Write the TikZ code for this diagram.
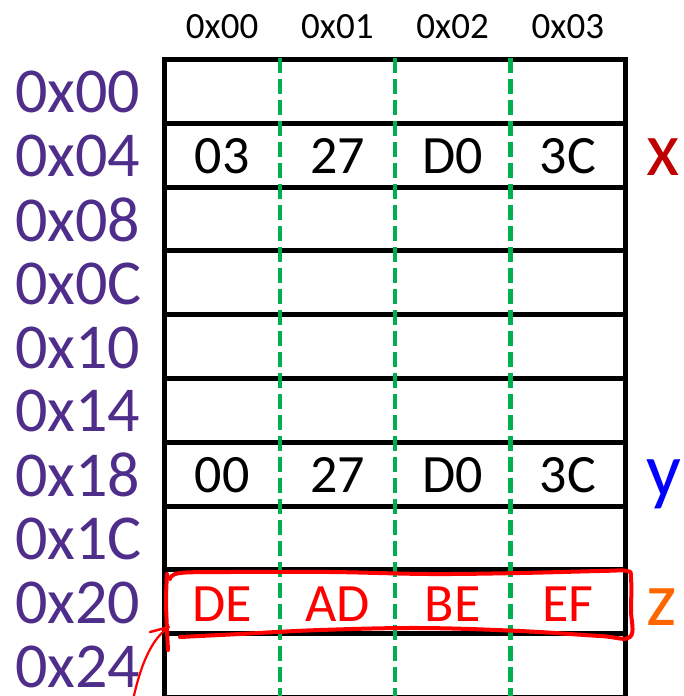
\documentclass[tikz,border=0pt]{standalone}
\usepackage{fontspec}
\setmainfont{Carlito}
\definecolor{lblpurple}{RGB}{78,46,138}
\definecolor{gdashcol}{RGB}{0,176,80}
\definecolor{xred}{RGB}{192,0,0}
\definecolor{yblue}{RGB}{0,0,255}
\definecolor{zorange}{RGB}{255,102,0}
\definecolor{pen}{RGB}{255,0,0}
\tikzset{
  rowlbl/.style={anchor=west,inner sep=0pt,text=lblpurple,font=\fontsize{64}{64}\selectfont},
  hdr/.style={inner sep=0pt,font=\fontsize{37}{37}\selectfont},
  cellval/.style={inner sep=0pt,font=\fontsize{54}{54}\selectfont},
  redval/.style={cellval,text=pen},
  varlbl/.style={anchor=base west,inner sep=0pt,font=\fontsize{77}{77}\selectfont},
  gridline/.style={line width=5pt,black,line join=miter},
  gdash/.style={line width=4.5pt,gdashcol,dash pattern=on 15pt off 6pt},
  redpen/.style={line width=4pt,pen,line cap=round,line join=round},
}
\begin{document}
\begin{tikzpicture}[x=1pt,y=-1pt]
\useasboundingbox (0,0) rectangle (683,696);
\clip (0,0) rectangle (683,696);
\fill[white] (0,0) rectangle (683,696);
% row labels
\foreach \lab [count=\i from 0] in {00,04,08,0C,10,14,18,1C,20,24}{
  \node[rowlbl] (r\i) at (15,{59.5+63.8*(\i+0.5)+1}) {0x\lab};
}
% column headers
\foreach \lab [count=\j from 0] in {00,01,02,03}{
  \node[hdr] (h\j) at ({164.5+115.25*(\j+0.5)},26.5) {0x\lab};
}
% grid
\foreach \k in {1,...,10}{
  \draw[gridline] (164.5,{59.5+63.8*\k}) -- (625.5,{59.5+63.8*\k});
}
\draw[gridline] (164.5,705) -- (164.5,59.5) -- (625.5,59.5) -- (625.5,705);
\foreach \j in {1,2,3}{
  \draw[gdash] ({164.5+115.25*\j},57.5) -- ({164.5+115.25*\j},705);
}
% cell values
\foreach \v [count=\j from 0] in {03,27,D0,3C}{
  \node[cellval] (a\j) at ({164.5+115.25*(\j+0.5)},156) {\v};
}
\foreach \v [count=\j from 0] in {00,27,D0,3C}{
  \node[cellval] (b\j) at ({164.5+115.25*(\j+0.5)},475) {\v};
}
\foreach \v [count=\j from 0] in {DE,AD,BE,EF}{
  \node[redval] (c\j) at ({164.5+115.25*(\j+0.5)},604) {\v};
}
% variable labels
\node[varlbl,text=xred] (vx) at (646,175) {x};
\node[varlbl,text=yblue] (vy) at (646,496) {y};
\node[varlbl,text=zorange] (vz) at (646,625) {z};
% hand-drawn red box
\draw[redpen] plot[smooth,tension=0.6] coordinates {(170,579) (180,573) (230,572) (330,572) (430,574) (520,573) (600,571) (627,571) (631,578) (631,610) (630,637) (600,636) (520,631) (420,628) (320,630) (240,634) (180,637)};
\draw[redpen] plot[smooth,tension=0.6] coordinates {(167,574) (166,600) (167,630) (168,650)};
% red arrow
\coordinate (arrS) at (133,700);
\coordinate (arrT) at (169,627);
\coordinate (barb) at (150,632);
\draw[line width=2.2pt,pen] (arrS) .. controls (140,668) and (150,640) .. (arrT);
\draw[line width=2.5pt,pen,line cap=round] (barb) -- (arrT);
\end{tikzpicture}
\end{document}
